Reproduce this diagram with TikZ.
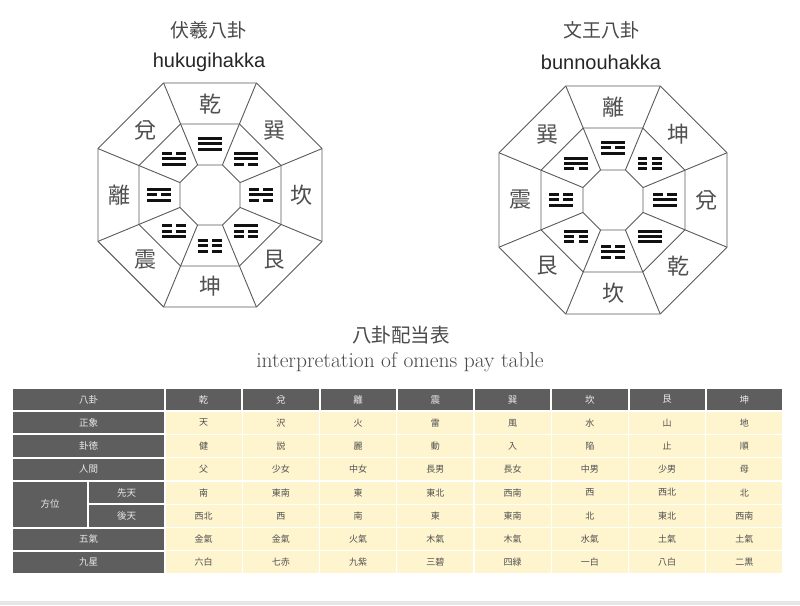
\documentclass[tikz,border=0pt]{standalone}
\usepackage{fontspec}
\newfontfamily\jp{Noto Sans CJK JP}
\newfontfamily\arial{Liberation Sans}
\definecolor{octgray}{HTML}{5A5A5A}
\definecolor{labgray}{HTML}{505050}
\definecolor{trifill}{HTML}{111111}
\definecolor{titlegray}{HTML}{4A4A4A}
\definecolor{darkcell}{HTML}{5E5E5E}
\definecolor{darktext}{HTML}{E8E8E8}
\definecolor{yelcell}{RGB}{254,244,206}
\definecolor{datatext}{HTML}{505050}
\definecolor{bandgray}{HTML}{E6E6E6}
\newcommand\tribar[2]{%
  \ifnum#2=1
    \fill[trifill] (-12,#1-1.5) rectangle (12,#1+1.5);
  \else
    \fill[trifill] (-12,#1-1.5) rectangle (-2.4,#1+1.5);
    \fill[trifill] (2.4,#1-1.5) rectangle (12,#1+1.5);
  \fi}
\tikzset{
  octline/.style={draw=octgray, line width=0.9pt, line join=miter},
  olab/.style={font=\jp\fontsize{22}{22}\selectfont, text=labgray, inner sep=0pt},
  titlejp/.style={font=\jp\fontsize{19}{19}\selectfont, text=titlegray, inner sep=0pt},
  titlelat/.style={font=\arial\fontsize{20}{20}\selectfont, text=black!85, inner sep=0pt},
  pics/trigram/.style n args={3}{code={\tribar{-5.2}{#1}\tribar{0}{#2}\tribar{5.2}{#3}}},
  hcell/.style={rectangle, fill=darkcell, draw=white, line width=2pt, text=darktext,
    font=\jp\fontsize{9.5}{10}\selectfont, inner sep=0pt, minimum height=23.25pt},
  dcell/.style={rectangle, fill=yelcell, draw=white, line width=1.2pt, text=datatext,
    font=\jp\fontsize{9}{10}\selectfont, inner sep=0pt, minimum width=77.25pt, minimum height=23.25pt},
}
\begin{document}
\begin{tikzpicture}[x=1pt,y=1pt]
\useasboundingbox (0,0) rectangle (800,605);
\fill[white] (0,0) rectangle (800,605);
\fill[bandgray] (0,0) rectangle (800,4);

% ---------- titles ----------
\node[titlejp] (t1) at (208,575) {伏羲八卦};
\node[titlelat] (t1b) at (209,543) {hukugihakka};
\node[titlejp] (t2) at (601,575) {文王八卦};
\node[titlelat] (t2b) at (601,543) {bunnouhakka};

% ---------- Fuxi octagon ----------
\begin{scope}[shift={(210,410)}]
  \foreach \R in {121.23,76.85,32.47}
    \draw[octline] (22.5:\R) foreach \a in {67.5,112.5,...,337.5} {-- (\a:\R)} -- cycle;
  \foreach \a in {22.5,67.5,...,337.5}
    \draw[octline] (\a:32.47) -- (\a:121.23);
  \foreach \lab [count=\k from 0] in {乾,巽,坎,艮,坤,震,離,兌}
    \node[olab] (fl\k) at ({90-45*\k}:91) {\lab};
  \pic (ft0) at (90:51) {trigram={1}{1}{1}};
  \pic (ft1) at (45:51) {trigram={0}{1}{1}};
  \pic (ft2) at (0:51) {trigram={0}{1}{0}};
  \pic (ft3) at (-45:51) {trigram={0}{0}{1}};
  \pic (ft4) at (-90:51) {trigram={0}{0}{0}};
  \pic (ft5) at (-135:51) {trigram={1}{0}{0}};
  \pic (ft6) at (180:51) {trigram={1}{0}{1}};
  \pic (ft7) at (135:51) {trigram={1}{1}{0}};
\end{scope}

% ---------- King Wen octagon ----------
\begin{scope}[shift={(613,405)}]
  \foreach \R in {123.39,77.93,32.47}
    \draw[octline] (22.5:\R) foreach \a in {67.5,112.5,...,337.5} {-- (\a:\R)} -- cycle;
  \foreach \a in {22.5,67.5,...,337.5}
    \draw[octline] (\a:32.47) -- (\a:123.39);
  \foreach \lab [count=\k from 0] in {離,坤,兌,乾,坎,艮,震,巽}
    \node[olab] (wl\k) at ({90-45*\k}:93) {\lab};
  \pic (wt0) at (90:52) {trigram={1}{0}{1}};
  \pic (wt1) at (45:52) {trigram={0}{0}{0}};
  \pic (wt2) at (0:52) {trigram={1}{1}{0}};
  \pic (wt3) at (-45:52) {trigram={1}{1}{1}};
  \pic (wt4) at (-90:52) {trigram={0}{1}{0}};
  \pic (wt5) at (-135:52) {trigram={0}{0}{1}};
  \pic (wt6) at (180:52) {trigram={1}{0}{0}};
  \pic (wt7) at (135:52) {trigram={0}{1}{1}};
\end{scope}

% ---------- table title ----------
\node[font=\jp\fontsize{19.5}{20}\selectfont, text=titlegray, inner sep=0pt] (tt) at (401,270) {八卦配当表};
\node[font=\fontsize{21.5}{22}\selectfont, text=titlegray, inner sep=0pt] (ts) at (400,243) {interpretation of omens pay table};

% ---------- table ----------
\node[hcell, minimum width=153pt] (h-lab) at (88.5,205.375) {八卦};
\foreach \t [count=\j from 0] in {乾,兌,離,震,巽,坎,艮,坤}
  \node[hcell, minimum width=77.25pt] (h-\j) at ({203.625+77.25*\j},205.375) {\t};

\foreach \r/\lab in {1/正象,2/卦徳,3/人間,6/五氣,7/九星}
  \node[hcell, minimum width=153pt] (l-\r) at (88.5,{205.375-23.25*\r}) {\lab};
\node[hcell, minimum width=76pt, minimum height=46.5pt] (l-hoi) at (50,100.75) {方位};
\node[hcell, minimum width=77pt] (l-4) at (126.5,112.375) {先天};
\node[hcell, minimum width=77pt] (l-5) at (126.5,89.125) {後天};

\foreach \r/\vals in {
  1/{天,沢,火,雷,風,水,山,地},
  2/{健,説,麗,動,入,陥,止,順},
  3/{父,少女,中女,長男,長女,中男,少男,母},
  4/{南,東南,東,東北,西南,西,西北,北},
  5/{西北,西,南,東,東南,北,東北,西南},
  6/{金氣,金氣,火氣,木氣,木氣,水氣,土氣,土氣},
  7/{六白,七赤,九紫,三碧,四緑,一白,八白,二黒}}
{
  \foreach \v [count=\j from 0] in \vals
    \node[dcell] (d-\r-\j) at ({203.625+77.25*\j},{205.375-23.25*\r}) {\v};
}
\end{tikzpicture}
\end{document}
